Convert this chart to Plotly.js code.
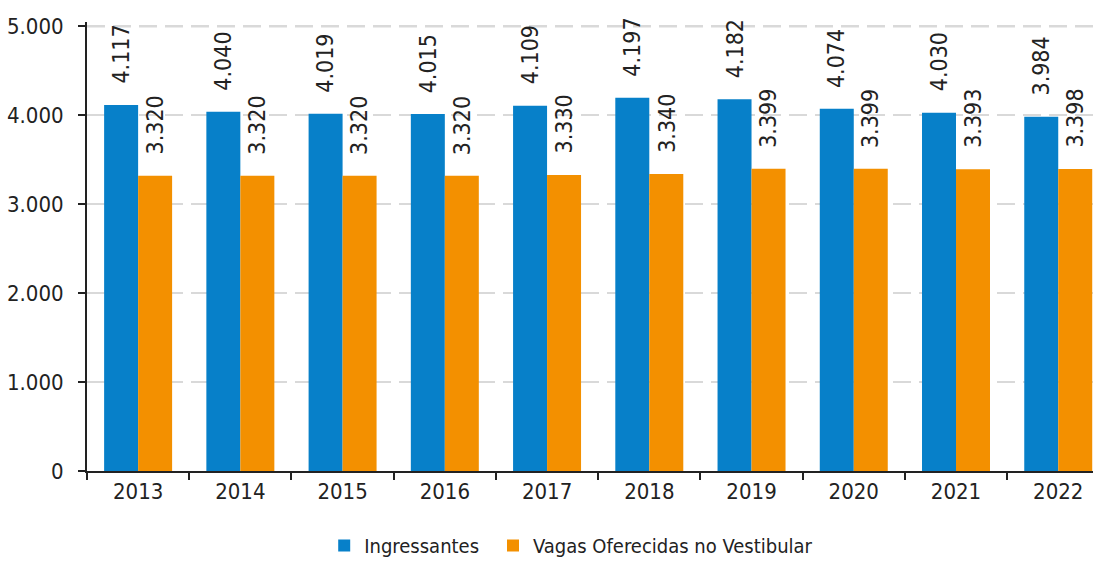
<!DOCTYPE html>
<html>
<head>
<meta charset="utf-8">
<script src="https://cdn.plot.ly/plotly-3.0.1.min.js"></script>
<style>
html,body{margin:0;padding:0;background:#fff;}
#chart{width:1099px;height:565px;}
#chart text{font-stretch:condensed !important;}
</style>
</head>
<body>
<div id="chart"></div>
<script>
const years = ['2013','2014','2015','2016','2017','2018','2019','2020','2021','2022'];
const ingressantes = [4117, 4040, 4019, 4015, 4109, 4197, 4182, 4074, 4030, 3984];
const vagas = [3320, 3320, 3320, 3320, 3330, 3340, 3399, 3399, 3393, 3398];
const seriesNames = ['Ingressantes', 'Vagas Oferecidas no Vestibular'];
const yTicks = [0, 1000, 2000, 3000, 4000, 5000];

const FONT = '"Liberation Sans Narrow", "DejaVu Sans Condensed", "DejaVu Sans", sans-serif';
const BLUE = '#0780C9';
const ORANGE = '#F39000';
const GRID = '#D9D9D9';
const fmt = v => String(v).replace(/\B(?=(\d{3})+(?!\d))/g, '.');

const traces = [
  {type:'bar', name:seriesNames[0], x:years, y:ingressantes, marker:{color:BLUE}, hoverinfo:'none', legend:'legend'},
  {type:'bar', name:seriesNames[1], x:years, y:vagas, marker:{color:ORANGE}, hoverinfo:'none', legend:'legend2'}
];

const annotations = [];
years.forEach((yr, i) => {
  annotations.push({x:i, y:ingressantes[i], xref:'x', yref:'y', text:fmt(ingressantes[i]), textangle:-90,
    showarrow:false, xanchor:'center', yanchor:'bottom', xshift:-17, yshift:19,
    font:{family:FONT, size:23, color:'#222'}});
  annotations.push({x:i, y:vagas[i], xref:'x', yref:'y', text:fmt(vagas[i]), textangle:-90,
    showarrow:false, xanchor:'center', yanchor:'bottom', xshift:17, yshift:19,
    font:{family:FONT, size:23, color:'#222'}});
});

const legendBase = {orientation:'h', xref:'container', yref:'container', xanchor:'left', y:0, yanchor:'bottom',
  font:{family:FONT, size:20, color:'#222'}, itemwidth:30, bgcolor:'rgba(0,0,0,0)'};

const topVal = yTicks[yTicks.length - 1];

const layout = {
  width:1099, height:565,
  margin:{l:87, r:6, t:22, b:94},
  paper_bgcolor:'#fff', plot_bgcolor:'#fff',
  separators:',.',
  barmode:'group', bargap:0.335, bargroupgap:0,
  font:{family:FONT, size:22, color:'#222'},
  xaxis:{
    type:'category', range:[-0.5, 9.34],
    showline:true, linecolor:'#222', linewidth:2,
    ticks:'outside', tickson:'boundaries', ticklen:7, tickwidth:2, tickcolor:'#222',
    showgrid:false, zeroline:false,
    tickfont:{family:FONT, size:22, color:'#222'}
  },
  yaxis:{
    range:[0, 5050], tickvals:yTicks, tickformat:',d',
    showline:true, linecolor:'#222', linewidth:2,
    ticks:'outside', ticklen:7, tickwidth:2, tickcolor:'#222',
    showgrid:true, gridcolor:GRID, gridwidth:2, griddash:'18px,8px',
    zeroline:false,
    tickfont:{family:FONT, size:22, color:'#222'},
    ticklabelstandoff:10
  },
  shapes:[{type:'line', xref:'paper', yref:'y', x0:0, x1:1, y0:topVal, y1:topVal,
    line:{color:GRID, width:2, dash:'18px,8px'}, layer:'below'}],
  showlegend:true,
  legend:Object.assign({}, legendBase, {x:0.295}),
  legend2:Object.assign({}, legendBase, {x:0.4486}),
  annotations:annotations
};

Plotly.newPlot('chart', traces, layout, {displayModeBar:false, staticPlot:true});
</script>
</body>
</html>
